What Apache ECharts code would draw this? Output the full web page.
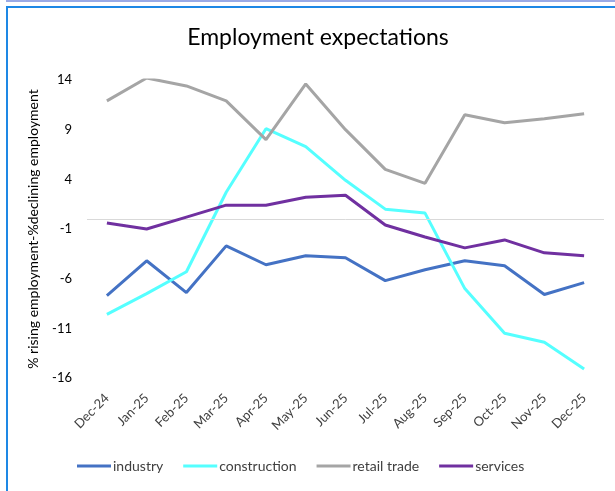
<!DOCTYPE html>
<html>
<head>
<meta charset="utf-8">
<script src="https://cdn.jsdelivr.net/npm/echarts@6/dist/echarts.min.js"></script>
<style>
  html, body { margin: 0; padding: 0; background: #ffffff; }
  #chart { width: 615px; height: 491px; }
</style>
</head>
<body>
<div id="chart"></div>
<script>
// Monthly balance: % expecting rising employment minus % expecting declining employment
const months = ['Dec-24', 'Jan-25', 'Feb-25', 'Mar-25', 'Apr-25', 'May-25', 'Jun-25',
                'Jul-25', 'Aug-25', 'Sep-25', 'Oct-25', 'Nov-25', 'Dec-25'];

const industry     = [-7.7, -4.2, -7.4, -2.7, -4.6, -3.7, -3.9, -6.2, -5.1, -4.2, -4.7, -7.6, -6.4];
const construction = [-9.6, -7.5, -5.3, 2.7, 9.1, 7.3, 3.9, 1.0, 0.6, -7.0, -11.5, -12.4, -15.1];
const retailTrade  = [11.9, 14.2, 13.4, 11.9, 8.0, 13.6, 9.0, 5.0, 3.6, 10.5, 9.7, 10.1, 10.6];
const services     = [-0.4, -1.0, 0.2, 1.4, 1.4, 2.2, 2.4, -0.6, -1.8, -2.9, -2.1, -3.4, -3.7];

const yTicks = [-16, -11, -6, -1, 4, 9, 14];

const seriesNames = ['industry', 'construction', 'retail trade', 'services'];
const seriesValues = [industry, construction, retailTrade, services];
const seriesColors = ['#4472C4', '#55FFFF', '#A5A5A5', '#7030A0'];

const baseFont = 'Lato, "Noto Sans", sans-serif';

const chart = echarts.init(document.getElementById('chart'), null, { renderer: 'canvas' });

const series = seriesNames.map((name, i) => ({
  name: name,
  type: 'line',
  data: seriesValues[i],
  showSymbol: false,
  symbol: 'none',
  lineStyle: { color: seriesColors[i], width: 3 },
  itemStyle: { color: seriesColors[i] },
  z: 3 + i,
  animation: false
}));

// zero line across the plot
series[0].markLine = {
  silent: true,
  symbol: ['none', 'none'],
  label: { show: false },
  lineStyle: { color: '#D9D9D9', width: 1, type: 'solid' },
  data: [{ yAxis: 0 }],
  animation: false
};

chart.setOption({
  backgroundColor: '#ffffff',
  animation: false,
  title: {
    text: 'Employment expectations',
    left: 313,
    textAlign: 'center',
    top: 21,
    textStyle: { fontFamily: baseFont, fontSize: 23, fontWeight: 'normal', color: '#000000' }
  },
  graphic: [
    { type: 'rect', shape: { x: 6, y: 0, width: 609, height: 2 }, style: { fill: '#9AAAE6' }, silent: true },
    { type: 'rect', shape: { x: 6, y: 6, width: 609, height: 2 }, style: { fill: '#1E88E5' }, silent: true },
    { type: 'rect', shape: { x: 6, y: 6, width: 2, height: 485 }, style: { fill: '#1E88E5' }, silent: true }
  ],
  legend: {
    data: seriesNames.map(n => ({ name: n, icon: 'rect' })),
    left: 77,
    top: 459,
    padding: 0,
    itemWidth: 34,
    itemHeight: 3,
    itemGap: 20,
    textStyle: { fontFamily: baseFont, fontSize: 14, color: '#404040', padding: [0, 0, 0, -3] }
  },
  grid: { left: 87, right: 11, top: 80, bottom: 113, containLabel: false },
  xAxis: {
    type: 'category',
    data: months,
    boundaryGap: true,
    axisLine: { show: false },
    axisTick: { show: false },
    splitLine: { show: false },
    axisLabel: {
      rotate: 45,
      interval: 0,
      margin: 18,
      fontFamily: baseFont,
      fontSize: 13,
      color: '#404040'
    }
  },
  yAxis: {
    type: 'value',
    min: -16,
    max: 14,
    name: '% rising employment-%declining employment',
    nameLocation: 'middle',
    nameGap: 47,
    nameRotate: 90,
    nameTextStyle: { fontFamily: baseFont, fontSize: 14, color: '#000000' },
    axisLine: { show: false },
    axisTick: { show: false, customValues: yTicks },
    splitLine: { show: false },
    axisLabel: {
      customValues: yTicks,
      margin: 15,
      fontFamily: baseFont,
      fontSize: 13,
      color: '#000000'
    }
  },
  series: series
});
</script>
</body>
</html>
